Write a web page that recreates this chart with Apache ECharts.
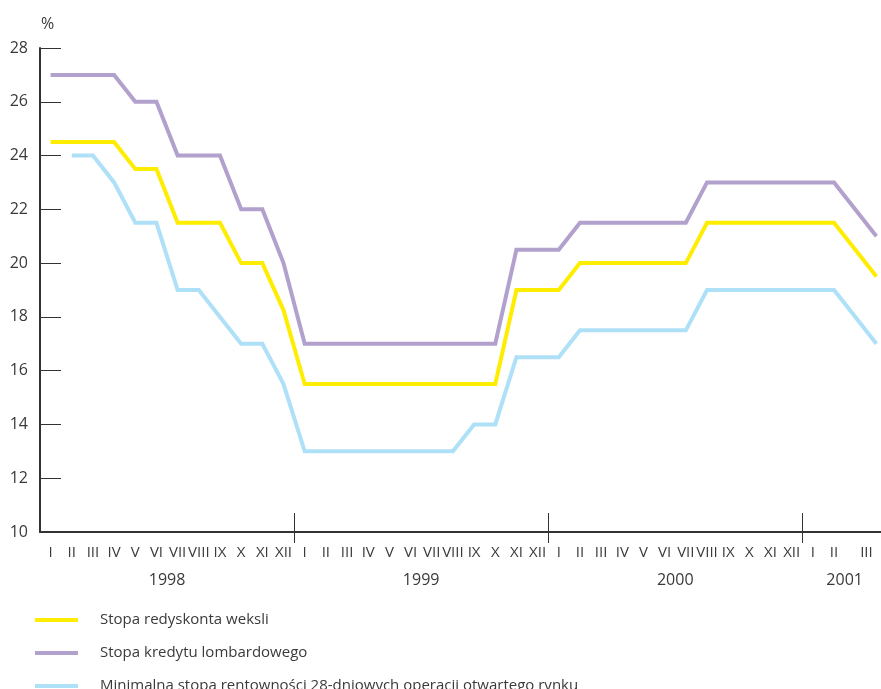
<!DOCTYPE html>
<html>
<head>
<meta charset="utf-8">
<script src="https://cdn.jsdelivr.net/npm/echarts@6/dist/echarts.min.js"></script>
<style>
html,body{margin:0;padding:0;background:#fff;overflow:hidden;}
#c{width:887px;height:689px;}
</style>
</head>
<body>
<div id="c"></div>
<script>
// Month categories: Jan 1998 ... 2001 (last slot holds the March 2001 reading, as drawn)
var months = ['I','II','III','IV','V','VI','VII','VIII','IX','X','XI','XII',
              'I','II','III','IV','V','VI','VII','VIII','IX','X','XI','XII',
              'I','II','III','IV','V','VI','VII','VIII','IX','X','XI','XII',
              'I','II','','III'];
var years = ['1998','1999','2000','2001'];
var yearCenters = [6, 18, 30, 38];
var yearBounds = [12, 24, 36];
var yTicks = [10, 28, 2];

var rediscount = [24.5,24.5,24.5,24.5,23.5,23.5,21.5,21.5,21.5,20,20,18.25,
                  15.5,15.5,15.5,15.5,15.5,15.5,15.5,15.5,15.5,15.5,19,19,
                  19,20,20,20,20,20,20,21.5,21.5,21.5,21.5,21.5,
                  21.5,21.5,null,19.5];
var lombard    = [27,27,27,27,26,26,24,24,24,22,22,20,
                  17,17,17,17,17,17,17,17,17,17,20.5,20.5,
                  20.5,21.5,21.5,21.5,21.5,21.5,21.5,23,23,23,23,23,
                  23,23,null,21];
var openMarket = [null,24,24,23,21.5,21.5,19,19,18,17,17,15.5,
                  13,13,13,13,13,13,13,13,14,14,16.5,16.5,
                  16.5,17.5,17.5,17.5,17.5,17.5,17.5,19,19,19,19,19,
                  19,19,null,17];

var names = ['Stopa redyskonta weksli','Stopa kredytu lombardowego',
             'Minimalna stopa rentowności 28-dniowych operacji otwartego rynku'];
var colors = ['#ffed00','#b2a0cd','#aee0f7'];

var FONT = '"Liberation Sans Narrow","Open Sans","Noto Sans",sans-serif';
var TXT = '#3a3a3a';
var AX = '#333333';

var chart = echarts.init(document.getElementById('c'), null, {renderer:'canvas'});
function mk(i, data){
  return {name:names[i], type:'line', data:data, connectNulls:true, showSymbol:false,
    symbol:'none', lineStyle:{color:colors[i], width:4, join:'miter'}, itemStyle:{color:colors[i]},
    animation:false, z: 3-i};
}
chart.setOption({
  animation:false,
  textStyle:{fontFamily:FONT},
  grid:{left:40, right:0, top:48, bottom:157, containLabel:false},
  legend:{
    orient:'vertical', left:35, top:611, height:140, padding:0,
    itemWidth:43, itemHeight:4, itemGap:15,
    icon:'rect',
    textStyle:{fontFamily:FONT, fontSize:15, color:TXT, padding:[0,0,0,17], lineHeight:18},
    data:names.map(function(n,i){return {name:n, icon:'rect', itemStyle:{color:colors[i]}};})
  },
  xAxis:[{
    type:'category', data:months, boundaryGap:true,
    axisLine:{lineStyle:{color:AX, width:2}},
    axisTick:{inside:true, length:12, interval:0, lineStyle:{color:AX, width:1}},
    axisLabel:{interval:0, hideOverlap:false, margin:13, fontSize:15, color:TXT, fontFamily:FONT,
      formatter:function(v, idx){ return idx===39 ? '{s|'+v+'}' : v; },
      rich:{s:{fontSize:15, color:TXT, fontFamily:FONT, padding:[0,20,0,0]}}},
    splitLine:{show:false}
  },{
    type:'value', min:0, max:40, position:'bottom',
    axisLine:{show:false},
    axisTick:{show:true, inside:true, length:19, customValues:yearBounds, lineStyle:{color:AX, width:1}},
    axisLabel:{show:true, customValues:yearCenters, margin:40, fontSize:16, color:TXT, fontFamily:FONT,
      formatter:function(v){ var k = yearCenters.indexOf(v); return k>=0 ? years[k] : ''; }},
    splitLine:{show:false}
  },{
    type:'value', min:0, max:40, position:'bottom',
    axisLine:{show:false},
    axisTick:{show:true, inside:false, length:11, customValues:yearBounds, lineStyle:{color:AX, width:1}},
    axisLabel:{show:false},
    splitLine:{show:false}
  }],
  yAxis:{
    type:'value', min:yTicks[0], max:yTicks[1], interval:yTicks[2],
    name:'%', nameLocation:'end', nameGap:16,
    nameTextStyle:{align:'left', fontSize:16, color:TXT, fontFamily:FONT, padding:[0,0,0,1]},
    axisLine:{show:true, lineStyle:{color:AX, width:2}},
    axisTick:{show:true, inside:true, length:21, lineStyle:{color:AX, width:1}},
    axisLabel:{margin:12, fontSize:16, color:TXT, fontFamily:FONT},
    splitLine:{show:false}
  },
  series:[mk(1, lombard), mk(0, rediscount), mk(2, openMarket)]
});
</script>
</body>
</html>
